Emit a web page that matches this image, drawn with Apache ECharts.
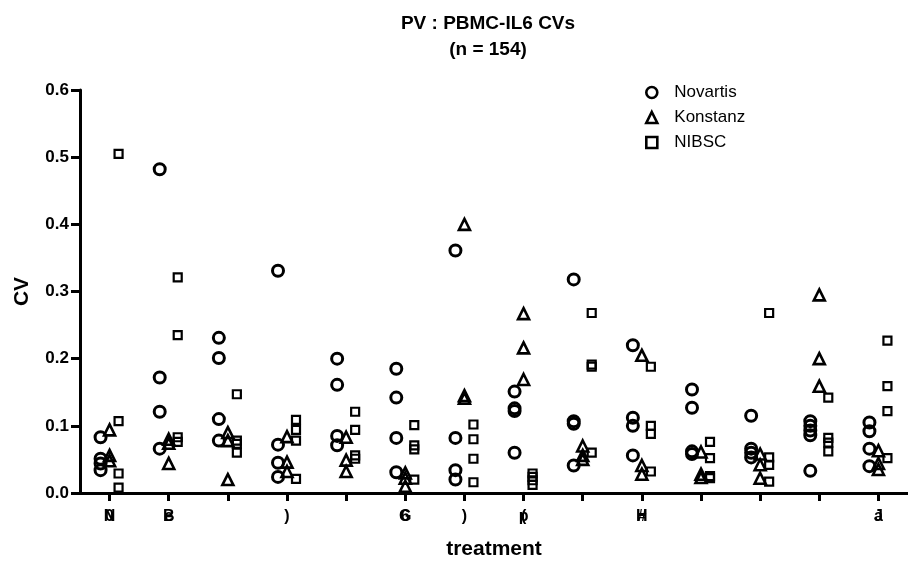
<!DOCTYPE html>
<html>
<head>
<meta charset="utf-8">
<title>PV : PBMC-IL6 CVs</title>
<script src="https://cdn.jsdelivr.net/npm/echarts@6/dist/echarts.min.js"></script>
<style>
  html, body { margin: 0; padding: 0; background: #ffffff; }
  #chart { width: 908px; height: 565px; }
</style>
</head>
<body>
<div id="chart"></div>
<script>
// Treatment slots along the x axis (14 groups)
const treatments = ['1', '2', '3', '4', '5', '6', '7', '8', '9', '10', '11', '12', '13', '14'];

// Tick labels under the treatment ticks: two overprinted glyph layers
const tickLabelsA = ['N', 'B', '', ')', '', 'G', ')', 'p', '', 'H', '', '', '', 'J'];
const tickLabelsB = ['0', 'e', '', '', '', '6', '', '(', '', '#', '', '', '', 'a'];

// CV values per treatment, one list per lab
const novartis = [
  [0.083, 0.051, 0.044, 0.034],
  [0.482, 0.172, 0.121, 0.066],
  [0.231, 0.201, 0.110, 0.078],
  [0.331, 0.072, 0.045, 0.024],
  [0.200, 0.161, 0.085, 0.071],
  [0.185, 0.142, 0.082, 0.031],
  [0.361, 0.082, 0.034, 0.020],
  [0.151, 0.126, 0.122, 0.060],
  [0.318, 0.107, 0.103, 0.041],
  [0.220, 0.112, 0.100, 0.056],
  [0.154, 0.127, 0.062, 0.058],
  [0.115, 0.066, 0.060, 0.053],
  [0.107, 0.100, 0.093, 0.086, 0.033],
  [0.105, 0.092, 0.066, 0.040]
];
const konstanz = [
  [0.094, 0.056, 0.048],
  [0.080, 0.074, 0.044],
  [0.090, 0.078, 0.020],
  [0.084, 0.046, 0.032],
  [0.083, 0.049, 0.032],
  [0.030, 0.022, 0.010],
  [0.400, 0.145, 0.141],
  [0.267, 0.216, 0.169],
  [0.070, 0.056, 0.050],
  [0.205, 0.041, 0.028],
  [0.061, 0.028, 0.023],
  [0.058, 0.042, 0.022],
  [0.295, 0.200, 0.159],
  [0.063, 0.044, 0.035]
];
const nibsc = [
  [0.505, 0.107, 0.029, 0.008],
  [0.321, 0.235, 0.083, 0.076],
  [0.147, 0.078, 0.073, 0.060],
  [0.109, 0.094, 0.078, 0.021],
  [0.121, 0.094, 0.056, 0.051],
  [0.101, 0.071, 0.065, 0.020],
  [0.102, 0.080, 0.051, 0.016],
  [0.029, 0.024, 0.019, 0.012],
  [0.268, 0.191, 0.188, 0.060],
  [0.188, 0.100, 0.088, 0.032],
  [0.076, 0.052, 0.025, 0.022],
  [0.268, 0.053, 0.042, 0.017],
  [0.142, 0.082, 0.075, 0.062],
  [0.227, 0.159, 0.122, 0.052]
];

const yTicks = [0, 0.1, 0.2, 0.3, 0.4, 0.5, 0.6];

// Flatten per-treatment lists into [category, value] points
function toPoints(groups) {
  const pts = [];
  groups.forEach((vals, i) => vals.forEach(v => pts.push([treatments[i], v])));
  return pts;
}

const FONT = '"Liberation Sans", Arial, Helvetica, sans-serif';

function scatter(name, data, symbol, size, offset, border) {
  return {
    name: name,
    type: 'scatter',
    data: data,
    symbol: symbol,
    symbolSize: size,
    symbolOffset: [offset, 0],
    itemStyle: { color: 'rgba(255,255,255,0)', borderColor: '#000', borderWidth: border, opacity: 1 },
    emphasis: { disabled: true },
    z: 3
  };
}

const chart = echarts.init(document.getElementById('chart'), null, { renderer: 'canvas' });

chart.setOption({
  animation: false,
  backgroundColor: '#ffffff',
  title: {
    text: 'PV : PBMC-IL6 CVs\n(n = 154)',
    left: 483,
    top: 6,
    textAlign: 'center',
    textStyle: { fontFamily: FONT, fontWeight: 'bold', fontSize: 19, color: '#000', lineHeight: 26 }
  },
  legend: {
    orient: 'vertical',
    left: 640,
    top: 78,
    itemWidth: 11,
    itemHeight: 11,
    itemGap: 6,
    itemStyle: { borderWidth: 2.6, borderColor: '#000', color: 'rgba(255,255,255,0)' },
    textStyle: { fontFamily: FONT, fontSize: 17, color: '#000', lineHeight: 19, padding: [0, 0, 0, 12] },
    data: [
      { name: 'Novartis', icon: 'circle' },
      { name: 'Konstanz', icon: 'triangle' },
      { name: 'NIBSC', icon: 'rect' }
    ],
    selectedMode: false
  },
  grid: { left: 80, right: -9, top: 90, bottom: 67, containLabel: false },
  xAxis: [
    {
      type: 'category',
      data: treatments,
      boundaryGap: true,
      name: 'treatment',
      nameLocation: 'middle',
      nameGap: 46,
      nameTextStyle: { fontFamily: FONT, fontWeight: 'bold', fontSize: 21, color: '#000' },
      axisLine: { show: true, onZero: false, lineStyle: { color: '#000', width: 3 } },
      axisTick: { show: true, alignWithLabel: true, length: 8, lineStyle: { color: '#000', width: 3 } },
      axisLabel: {
        margin: 16,
        interval: 0,
        fontFamily: FONT, fontWeight: 'bold', fontSize: 16, color: '#000',
        formatter: (v, i) => tickLabelsA[i]
      },
      splitLine: { show: false }
    },
    {
      type: 'category',
      data: treatments,
      boundaryGap: true,
      position: 'bottom',
      axisLine: { show: false },
      axisTick: { show: false },
      axisLabel: {
        margin: 16,
        interval: 0,
        fontFamily: FONT, fontWeight: 'bold', fontSize: 16, color: '#000',
        formatter: (v, i) => tickLabelsB[i]
      },
      splitLine: { show: false }
    }
  ],
  yAxis: {
    type: 'value',
    min: yTicks[0],
    max: yTicks[yTicks.length - 1],
    interval: 0.1,
    name: 'CV',
    nameLocation: 'middle',
    nameGap: 47,
    nameTextStyle: { fontFamily: FONT, fontWeight: 'bold', fontSize: 21, color: '#000' },
    axisLine: { show: true, lineStyle: { color: '#000', width: 3 } },
    axisTick: { show: true, length: 9, lineStyle: { color: '#000', width: 3 } },
    axisLabel: {
      margin: 11,
      fontFamily: FONT, fontWeight: 'bold', fontSize: 17, color: '#000',
      formatter: v => v.toFixed(1)
    },
    splitLine: { show: false }
  },
  series: [
    scatter('Novartis', toPoints(novartis), 'circle', 11, -9, 3),
    scatter('Konstanz', toPoints(konstanz), 'triangle', 11, 0, 2.6),
    scatter('NIBSC', toPoints(nibsc), 'rect', 8, 9, 2.2)
  ]
});
</script>
</body>
</html>
